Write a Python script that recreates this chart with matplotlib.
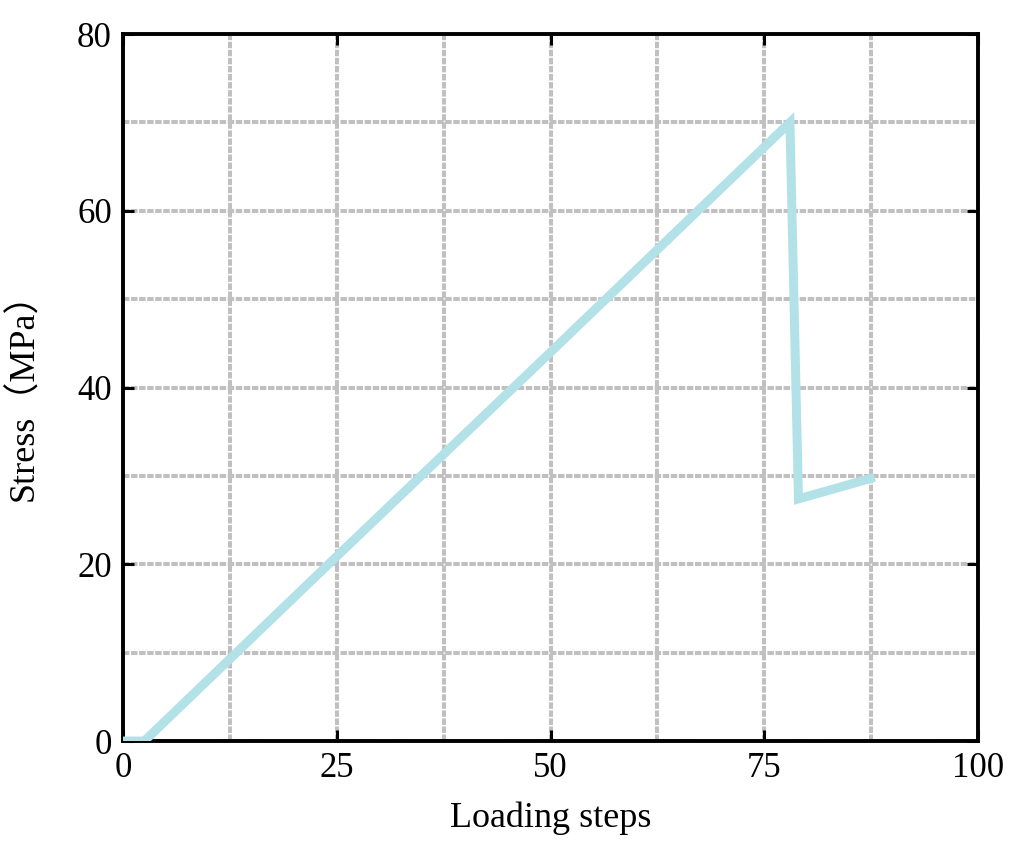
import matplotlib
matplotlib.use('Agg')
from matplotlib import pyplot as plt

# loading curve
steps = [0.5, 1.5, 2.5, 25, 50, 78, 79, 87.4]
stress = [0, 0, 0, 20.9, 44.0, 70.0, 27.4, 29.7]

plt.rcParams['font.family'] = ['Liberation Serif', 'Noto Sans CJK SC']

fig = plt.figure(figsize=(10.19, 8.66), dpi=100)
ax = fig.add_axes([0.1207, 0.1443, 0.8391, 0.8164])

ax.plot(steps, stress, color='#b2e2e8', linewidth=6.5, solid_joinstyle='miter', zorder=3)

ax.set_xlim(0, 100)
ax.set_ylim(0, 80)
ax.set_xticks([0, 25, 50, 75, 100])
ax.set_yticks([0, 20, 40, 60, 80])
ax.set_xticks([12.5, 37.5, 62.5, 87.5], minor=True)
ax.set_yticks([10, 30, 50, 70], minor=True)

ax.grid(True, which='both', color='#c0c0c0', linestyle=(0, (1.6, 0.4)), linewidth=2.9, zorder=1)
ax.tick_params(which='major', direction='in', length=8, width=2.2, labelsize=25,
               top=True, right=True, pad=8)
ax.tick_params(which='minor', length=0)

for side in ax.spines.values():
    side.set_linewidth(2.8)

ax.set_xlabel('Loading steps', fontsize=26, labelpad=12)
ax.set_ylabel('Stress（MPa）', fontsize=26, labelpad=26)

fig.savefig('out.png', dpi=100)
